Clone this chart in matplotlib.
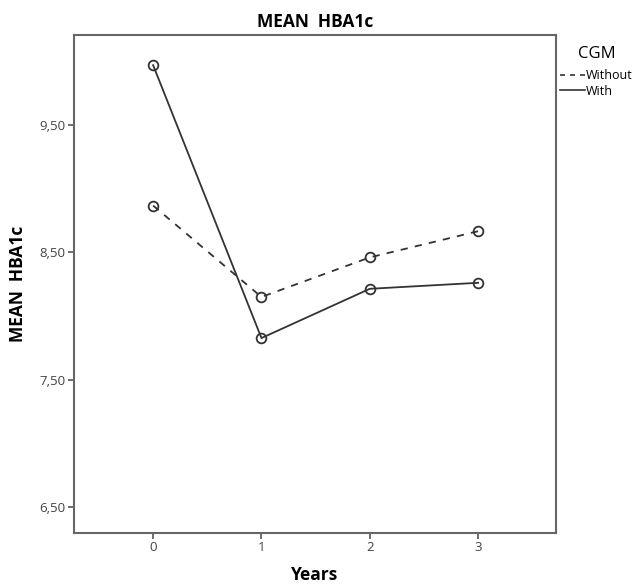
import matplotlib
matplotlib.use("Agg")
import matplotlib.pyplot as plt
from matplotlib.lines import Line2D

years = [0, 1, 2, 3]
without_cgm = [8.865, 8.149, 8.459, 8.664]
with_cgm = [9.965, 7.827, 8.213, 8.260]
yticks = [6.5, 7.5, 8.5, 9.5]
ytick_labels = ["6,50", "7,50", "8,50", "9,50"]

plt.rcParams['font.family'] = ['Open Sans', 'DejaVu Sans']

fig = plt.figure(figsize=(6.36, 5.85), dpi=100)
ax = fig.add_axes([0.1164, 0.0889, 0.758, 0.851])

lc = '#333333'
ax.plot(years, without_cgm, linestyle=(0, (4, 4)), color=lc, lw=1.3,
        marker='o', markersize=7, markerfacecolor='none', markeredgecolor=lc, markeredgewidth=1.3)
ax.plot(years, with_cgm, linestyle='-', color=lc, lw=1.3,
        marker='o', markersize=7, markerfacecolor='none', markeredgecolor=lc, markeredgewidth=1.3)

ax.set_xlim(-0.73, 3.72)
ax.set_ylim(6.30, 10.20)
ax.set_xticks(years)
ax.set_xticklabels([str(y) for y in years])
ax.set_yticks(yticks)
ax.set_yticklabels(ytick_labels)
ax.tick_params(axis='both', direction='out', length=4, width=1.2, color='#555555',
               labelsize=9.5, labelcolor='#444444', pad=2)
for s in ax.spines.values():
    s.set_color('#666666')
    s.set_linewidth(1.5)

ax.set_title("MEAN  HBA1c", fontsize=12.5, fontweight='bold', pad=6)
ax.set_xlabel("Years", fontsize=12.5, fontweight='bold', va='center')
ax.set_ylabel("MEAN  HBA1c", fontsize=12.5, fontweight='bold', va='center')
ax.xaxis.set_label_coords(0.5, -0.085)
ax.yaxis.set_label_coords(-0.116, 0.5)

handles = [Line2D([0], [0], color=lc, lw=1.2, linestyle=(0, (3, 3))),
           Line2D([0], [0], color=lc, lw=1.2, linestyle='-')]
leg = ax.legend(handles, ["Without", "With"], title="CGM", loc='upper left',
                bbox_to_anchor=(1.0, 0.985), frameon=False, fontsize=9,
                title_fontsize=12, handlelength=2.0, handletextpad=0.1,
                borderaxespad=0.1, labelspacing=0.2, borderpad=0.2)
leg._legend_box.sep = 5

fig.savefig("out.png", dpi=100)
